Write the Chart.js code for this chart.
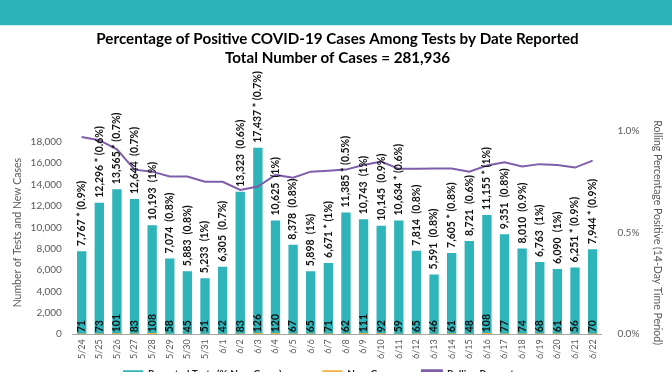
<!DOCTYPE html>
<html lang="en">
<head>
<meta charset="UTF-8">
<meta name="viewport" content="width=device-width, initial-scale=1.0">
<title>Percentage of Positive COVID-19 Cases Among Tests</title>
<script src="https://cdn.jsdelivr.net/npm/chart.js"></script>
<style>
    html, body { margin: 0; padding: 0; background: #fff; overflow: hidden; }
    #wrap { position: relative; width: 672px; height: 387px; }
</style>
</head>
<body>
<div id="wrap"><canvas id="positivityChart"></canvas></div>
<script>
    // Reported dates (x axis)
    const dates = ['5/24', '5/25', '5/26', '5/27', '5/28', '5/29', '5/30', '5/31', '6/1', '6/2',
        '6/3', '6/4', '6/5', '6/6', '6/7', '6/8', '6/9', '6/10', '6/11', '6/12',
        '6/13', '6/14', '6/15', '6/16', '6/17', '6/18', '6/19', '6/20', '6/21', '6/22'];

    // Reported tests per day
    const testCounts = [7767, 12296, 13565, 12644, 10193, 7074, 5883, 5233, 6305, 13323,
        17437, 10625, 8378, 5898, 6671, 11385, 10743, 10145, 10634, 7814,
        5591, 7605, 8721, 11155, 9351, 8010, 6763, 6090, 6251, 7944];

    // New cases per day
    const newCases = [71, 73, 101, 83, 108, 58, 45, 51, 42, 83,
        126, 120, 67, 65, 71, 62, 111, 92, 59, 65,
        46, 61, 48, 108, 77, 74, 68, 61, 56, 70];

    // Daily positive share shown in the bar labels
    const pctLabels = ['0.9%', '0.6%', '0.7%', '0.7%', '1%', '0.8%', '0.8%', '1%', '0.7%', '0.6%',
        '0.7%', '1%', '0.8%', '1%', '1%', '0.5%', '1%', '0.9%', '0.6%', '0.8%',
        '0.8%', '0.8%', '0.6%', '1%', '0.8%', '0.9%', '1%', '1%', '0.9%', '0.9%'];

    // Days marked with an asterisk
    const starred = [true, true, true, false, false, false, false, false, false, false,
        true, false, false, false, true, true, false, false, true, false,
        false, true, false, true, false, false, false, false, true, true];

    // Rolling 14-day percentage positive (in %)
    const rollingPct = [0.97, 0.955, 0.91, 0.81, 0.80, 0.776, 0.776, 0.75, 0.75, 0.71,
        0.727, 0.784, 0.77, 0.80, 0.805, 0.81, 0.833, 0.85, 0.814, 0.814,
        0.815, 0.815, 0.80, 0.83, 0.846, 0.825, 0.837, 0.833, 0.82, 0.854];

    // axis ticks
    const countTicks = [0, 2000, 4000, 6000, 8000, 10000, 12000, 14000, 16000, 18000];
    const pctTicks = [0, 0.5, 1.0];

    const FONT = 'Lato, "Open Sans", sans-serif';

    // teal band across the top of the page
    const headerBand = {
        id: 'headerBand',
        beforeDraw(chart) {
            const ctx = chart.ctx;
            ctx.save();
            ctx.fillStyle = '#2db3bb';
            ctx.fillRect(0, 0, chart.width, 25);
            ctx.fillStyle = '#c9ecee';
            ctx.fillRect(0, 25, chart.width, 1);
            ctx.restore();
        }
    };

    // keep the legend row tucked just under the date labels (it is cut off by the page edge)
    const legendSnug = {
        id: 'legendSnug',
        afterLayout(chart) {
            const lg = chart.legend;
            if (!lg) return;
            const shift = lg.top - (chart.chartArea.bottom + 32);
            lg.top -= shift;
            lg.bottom -= shift;
        }
    };

    // rotated labels above each bar and new case counts at the base
    const barLabels = {
        id: 'barLabels',
        afterDatasetsDraw(chart) {
            const ctx = chart.ctx;
            const meta = chart.getDatasetMeta(0);
            const base = chart.scales.y.getPixelForValue(0);
            ctx.save();
            ctx.fillStyle = '#111';
            ctx.font = 'bold 10.5px ' + FONT;
            ctx.textAlign = 'left';
            ctx.textBaseline = 'middle';
            meta.data.forEach((bar, i) => {
                const txt = testCounts[i].toLocaleString('en-US') +
                    (starred[i] ? ' * ' : '  ') + '(' + pctLabels[i] + ')';
                ctx.save();
                ctx.translate(bar.x, bar.y - 5);
                ctx.rotate(-Math.PI / 2);
                ctx.fillText(txt, 0, 0);
                ctx.restore();

                ctx.save();
                ctx.translate(bar.x, base - 2);
                ctx.rotate(-Math.PI / 2);
                ctx.fillText(String(newCases[i]), 0, 0);
                ctx.restore();
            });
            ctx.restore();
        }
    };

    // extra spacing after each legend entry
    const legendGap = ['\u2003\u2003\u2003\u2003\u2003', '\u2003\u2003\u2003', '\u2003\u2003\u2003'];

    new Chart(document.getElementById('positivityChart'), {
        type: 'bar',
        data: {
            labels: dates,
            datasets: [{
                label: 'Reported Tests (% New Cases)',
                data: testCounts,
                backgroundColor: '#2eb4b9',
                yAxisID: 'y',
                grouped: false,
                barPercentage: 0.53,
                categoryPercentage: 1,
                order: 3
            }, {
                label: 'New Cases',
                data: newCases,
                backgroundColor: '#f0b13f',
                yAxisID: 'y',
                grouped: false,
                barPercentage: 0.53,
                categoryPercentage: 1,
                order: 2
            }, {
                type: 'line',
                label: 'Rolling Percentage',
                data: rollingPct,
                yAxisID: 'y1',
                borderColor: '#7e5ea9',
                backgroundColor: '#7e5ea9',
                borderWidth: 2,
                pointRadius: 0,
                tension: 0,
                order: 1
            }]
        },
        options: {
            responsive: true,
            maintainAspectRatio: false,
            animation: false,
            layout: { padding: { top: 28, left: 7, right: 4, bottom: 0 } },
            plugins: {
                title: {
                    display: true,
                    text: ['Percentage of Positive COVID-19 Cases Among Tests by Date Reported',
                        'Total Number of Cases = 281,936'],
                    color: '#000',
                    font: { family: FONT, size: 15.2, weight: 'bold', lineHeight: 1.25 },
                    padding: { top: 2, bottom: 63 }
                },
                legend: {
                    position: 'bottom',
                    labels: {
                        color: '#222',
                        font: { family: FONT, size: 10, weight: 'bold' },
                        boxWidth: 20,
                        boxHeight: 8,
                        padding: 3,
                        sort: (a, b) => a.datasetIndex - b.datasetIndex,
                        generateLabels: chart => Chart.defaults.plugins.legend.labels.generateLabels(chart)
                            .map(item => Object.assign(item, { text: item.text + legendGap[item.datasetIndex] }))
                    }
                },
                tooltip: { enabled: false }
            },
            scales: {
                x: {
                    grid: { display: false, drawTicks: false },
                    border: { display: true, color: '#a6a6a6' },
                    ticks: {
                        color: '#595959',
                        font: { family: FONT, size: 9 },
                        minRotation: 90,
                        maxRotation: 90,
                        padding: 5
                    }
                },
                y: {
                    position: 'left',
                    min: 0,
                    max: 19000,
                    grid: { display: false },
                    border: { display: false },
                    afterBuildTicks: axis => { axis.ticks = countTicks.map(v => ({ value: v })); },
                    ticks: {
                        autoSkip: false,
                        color: '#595959',
                        font: { family: FONT, size: 10 },
                        padding: 3,
                        callback: v => Number(v).toLocaleString('en-US')
                    },
                    title: {
                        display: true,
                        text: 'Number of Tests and New Cases',
                        color: '#595959',
                        font: { family: FONT, size: 10.5 }
                    }
                },
                y1: {
                    position: 'right',
                    min: 0,
                    max: 1,
                    grid: { display: false },
                    border: { display: false },
                    afterBuildTicks: axis => { axis.ticks = pctTicks.map(v => ({ value: v })); },
                    ticks: {
                        autoSkip: false,
                        color: '#595959',
                        font: { family: FONT, size: 10 },
                        padding: 8,
                        callback: v => Number(v).toFixed(1) + '%'
                    },
                    title: {
                        display: true,
                        text: 'Rolling Percentage Positive (14-Day Time Period)',
                        color: '#595959',
                        font: { family: FONT, size: 10.5 }
                    }
                }
            }
        },
        plugins: [headerBand, legendSnug, barLabels]
    });
</script>
</body>
</html>
